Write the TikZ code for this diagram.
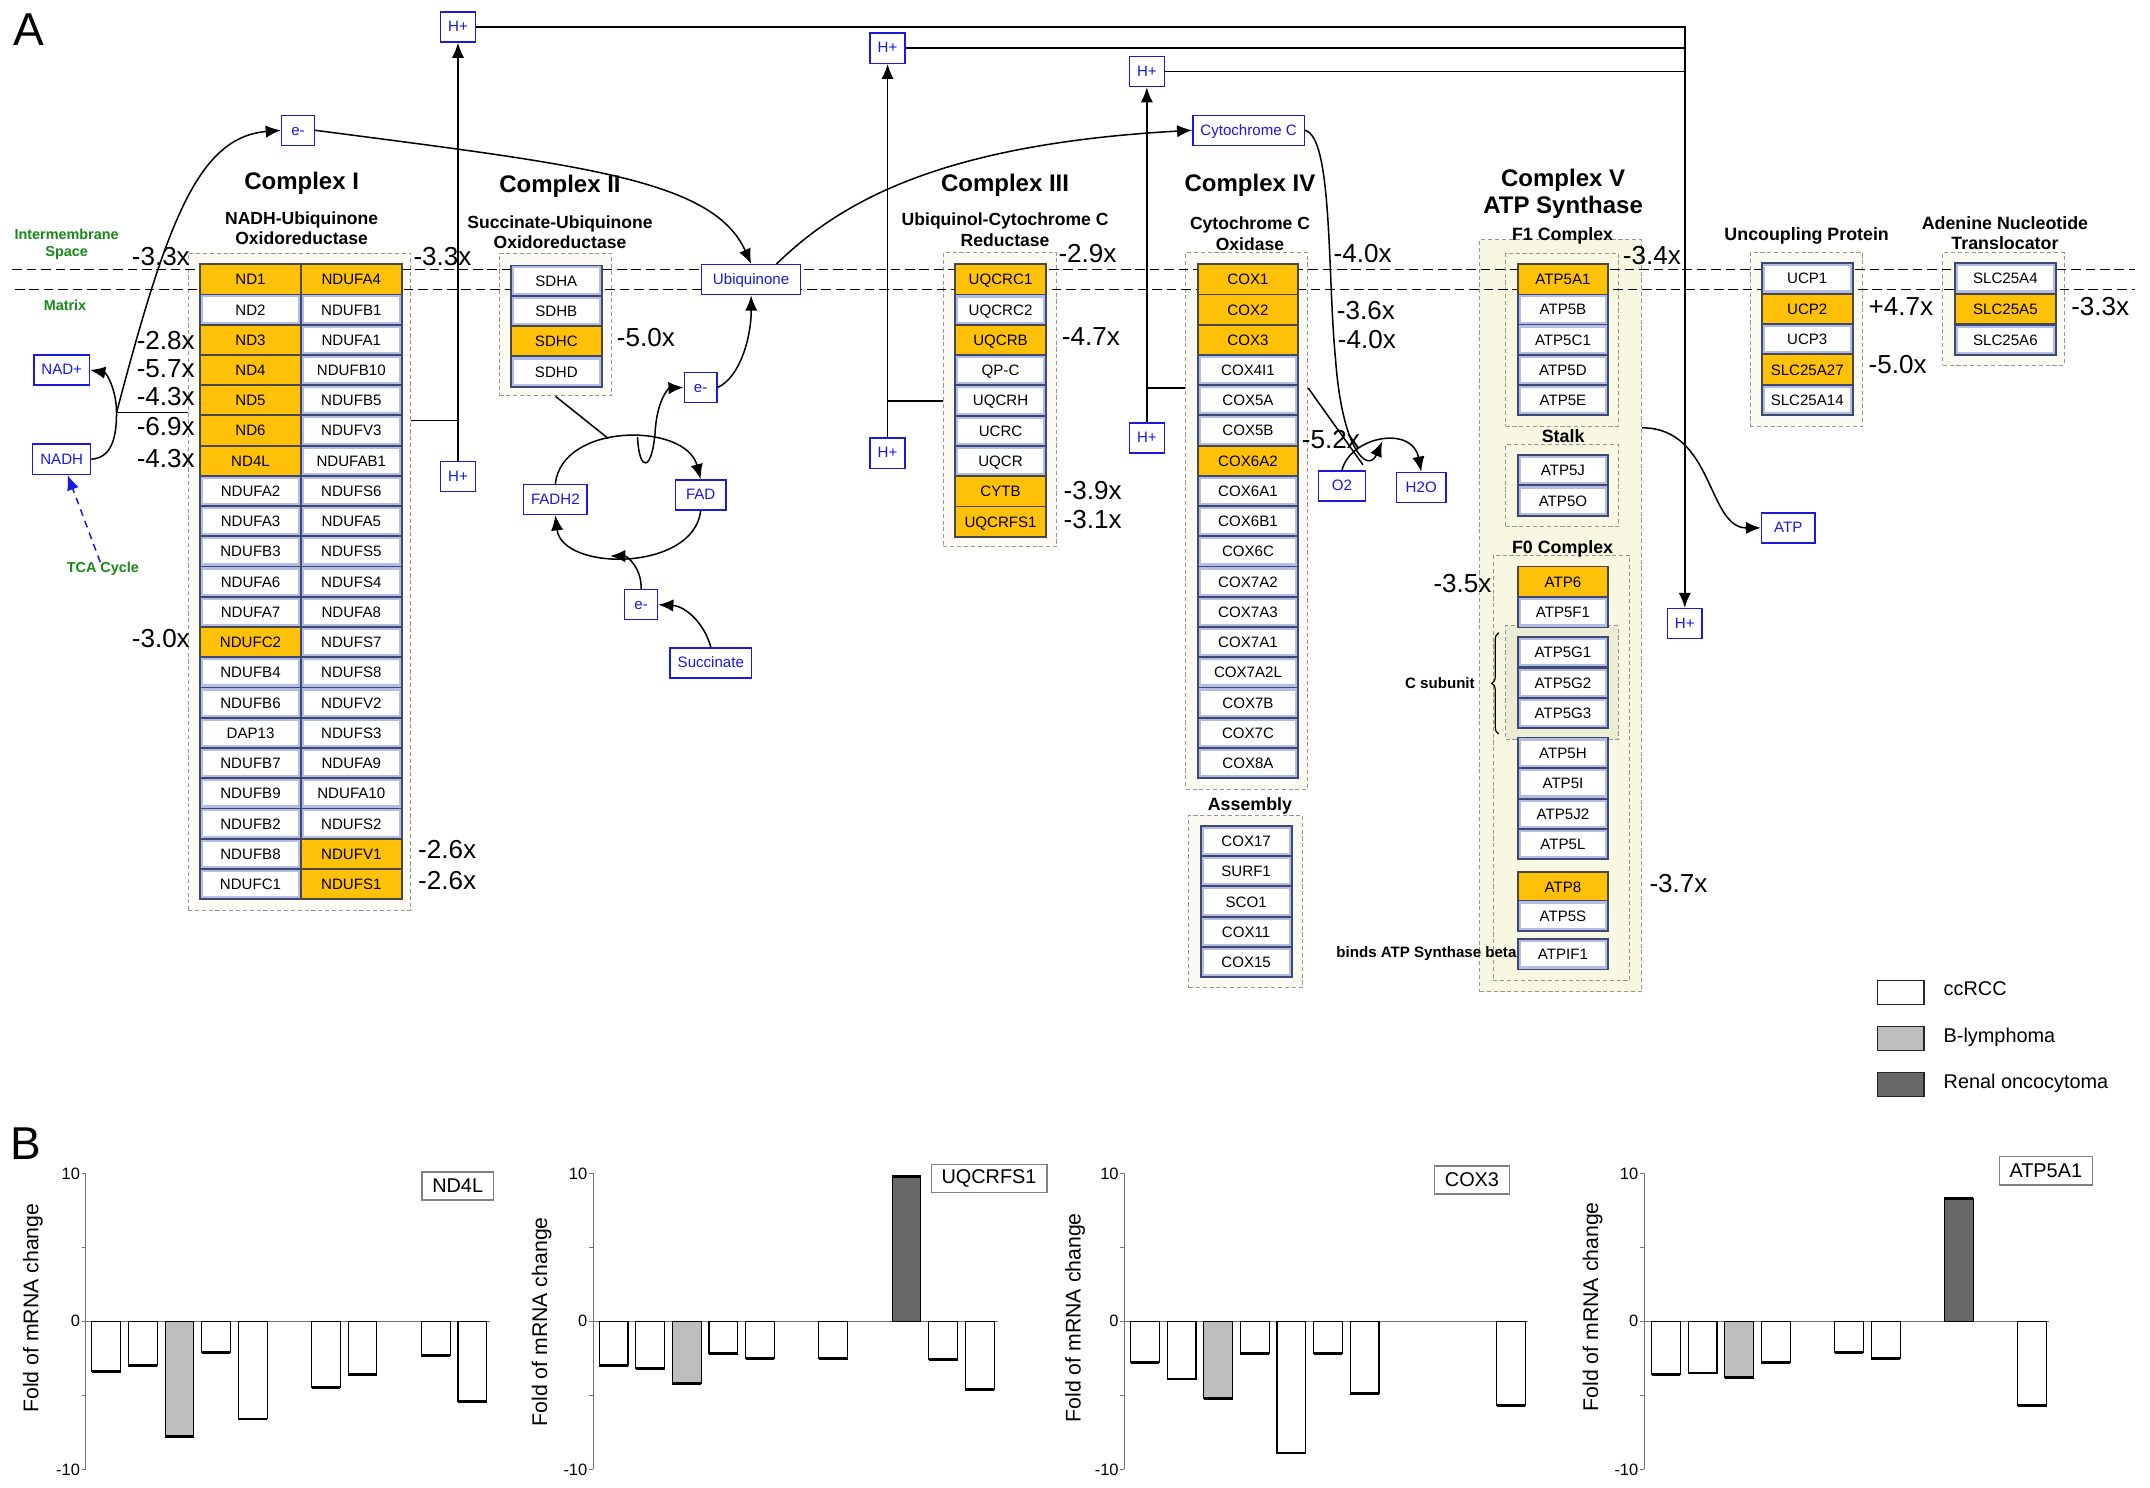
\documentclass[tikz,border=0pt]{standalone}
\usepackage{fontspec}
\setmainfont{Liberation Sans}
\usepackage{tikz}
\usetikzlibrary{arrows.meta,decorations.pathreplacing}

\definecolor{celldark}{RGB}{62,72,112}
\definecolor{cellband}{RGB}{178,188,228}
\definecolor{hitfill}{RGB}{255,193,7}
\definecolor{hitdark}{RGB}{72,72,72}
\definecolor{metblue}{RGB}{25,25,225}
\definecolor{memgreen}{RGB}{25,135,25}
\definecolor{grpfill}{RGB}{251,251,243}
\definecolor{grpline}{RGB}{150,150,140}
\definecolor{atpfill}{RGB}{248,248,226}
\definecolor{csubfill}{RGB}{236,236,212}
\definecolor{blyfill}{RGB}{189,189,189}
\definecolor{ronfill}{RGB}{104,104,104}

\newcommand{\fntgene}{\fontsize{11}{13}\selectfont}
\newcommand{\fntfold}{\fontsize{19}{22}\selectfont}
\newcommand{\fnttitle}{\bfseries\fontsize{17.5}{19.4}\selectfont}
\newcommand{\fntsub}{\bfseries\fontsize{12.8}{15}\selectfont}
\newcommand{\fntgroup}{\bfseries\fontsize{13}{15}\selectfont}
\newcommand{\fntnote}{\bfseries\fontsize{11}{13}\selectfont}
\newcommand{\fntmem}{\bfseries\fontsize{10.5}{12.1}\selectfont}
\newcommand{\fntmet}{\fontsize{11}{13}\selectfont}
\newcommand{\fntleg}{\fontsize{14.5}{17}\selectfont}
\newcommand{\fntax}{\fontsize{15.5}{18}\selectfont}
\newcommand{\fnttick}{\fontsize{12}{14}\selectfont}
\newcommand{\fntpanel}{\fontsize{33.6}{40}\selectfont}

\begin{document}
\begin{tikzpicture}[
    x=1pt, y=-1pt,
    cellbase/.style={line width=1.3pt, minimum width=66.4pt, minimum height=22pt, inner sep=0pt, text height=8pt, text depth=0pt, font=\fntgene},
    cell/.style={cellbase, draw=celldark, fill=cellband,
        path picture={\fill[white] ([shift={(2.2pt,-2.2pt)}]path picture bounding box.north west) rectangle ([shift={(-2.2pt,2.2pt)}]path picture bounding box.south east);}},
    hit/.style={cellbase, draw=hitdark, fill=hitfill},
    group/.style={draw=grpline, fill=grpfill, dash pattern=on 3pt off 2pt, line width=0.7pt, inner sep=0pt},
    met/.style={draw=metblue, text=metblue, fill=white, line width=1pt, font=\fntmet, minimum width=25pt, minimum height=22pt, inner xsep=5.5pt, inner ysep=0pt, text height=8pt, text depth=1pt},
    fold/.style={font=\fntfold, inner sep=0pt},
    ctitle/.style={font=\fnttitle, align=center, inner sep=0pt},
    csub/.style={font=\fntsub, align=center, inner sep=0pt},
    gtitle/.style={font=\fntgroup, align=center, inner sep=0pt},
    note/.style={font=\fntnote, anchor=east, inner sep=0pt},
    mem/.style={font=\fntmem, text=memgreen, align=center, inner sep=0pt},
    link/.style={line width=1.1pt},
    arr/.style={link, -{Latex[length=11pt, width=9pt]}},
    membrane/.style={dash pattern=on 7pt off 3.5pt, line width=0.9pt},
    legbox/.style={draw=black!85, line width=0.9pt, minimum width=33.8pt, minimum height=17.3pt, inner sep=0pt},
    legtext/.style={font=\fntleg, anchor=west, inner sep=0pt, text height=10.5pt, text depth=3pt},
    chartaxis/.style={draw=black!55, line width=0.7pt},
    bar/.style={draw=black, line width=0.8pt},
    barend/.style={draw=black, line width=2pt},
    ticklbl/.style={font=\fnttick, anchor=east, inner sep=0pt},
    ylbl/.style={font=\fntax, rotate=90, inner sep=0pt},
    gtag/.style={draw=black!50, line width=1pt, fill=white, font=\fntleg, minimum height=20.5pt, inner xsep=7.5pt, inner ysep=0pt},
]
    % background
    \fill[white] (0,0) rectangle (1568,1085);
    \useasboundingbox (0,0) rectangle (1568,1085);

    % === GROUP BOXES ===
    \node[group, minimum width=162.5pt, minimum height=478.9pt] (grp1) at (218.35,424.25) {};
    \node[group, minimum width=81.9pt, minimum height=104.2pt] (grp2) at (405.15,236.6) {};
    \node[group, minimum width=82.6pt, minimum height=214.5pt] (grp3) at (729.3,291.55) {};
    \node[group, minimum width=89pt, minimum height=391pt] (grp4) at (909.2,379.9) {};
    \node[group, minimum width=82.7pt, minimum height=125.9pt] (grpasm) at (908.45,657.35) {};
    \node[group, fill=atpfill, minimum width=117.9pt, minimum height=548.2pt] (grp5) at (1138.25,449.1) {};
    \node[group, fill=atpfill, minimum width=82.2pt, minimum height=125.9pt] (grpf1) at (1139.1,247.75) {};
    \node[group, fill=atpfill, minimum width=82.2pt, minimum height=59.6pt] (grpstalk) at (1139.1,354.3) {};
    \node[group, fill=atpfill, minimum width=99.7pt, minimum height=310.4pt] (grpf0) at (1138.85,560) {};
    \node[group, fill=csubfill, minimum width=82.2pt, minimum height=82.7pt] (grpcsub) at (1139.1,497.85) {};
    \node[group, minimum width=82.1pt, minimum height=126.4pt] (grpucp) at (1317.35,247.5) {};
    \node[group, minimum width=88.6pt, minimum height=81.9pt] (grpant) at (1461.1,225.25) {};

    % === MEMBRANE ===
    \draw[membrane] (9,196.4) -- (1557,196.4);
    \draw[membrane] (11,211) -- (1557,211);
    \node[mem] (imsp) at (48.6,178) {Intermembrane\\Space};
    \node[mem] (mtx) at (47.4,223) {Matrix};

    % === COMPLEX I ===
    \foreach \st/\gn [count=\r from 0] in {hit/ND1, cell/ND2, hit/ND3, hit/ND4, hit/ND5, hit/ND6, hit/ND4L, cell/NDUFA2, cell/NDUFA3, cell/NDUFB3, cell/NDUFA6, cell/NDUFA7, hit/NDUFC2, cell/NDUFB4, cell/NDUFB6, cell/DAP13, cell/NDUFB7, cell/NDUFB9, cell/NDUFB2, cell/NDUFB8, cell/NDUFC1}
        \node[\st, minimum width=73.5pt] (nda\r) at (182.7,{203.7+22.05*\r}) {\gn};
    \foreach \st/\gn [count=\r from 0] in {hit/NDUFA4, cell/NDUFB1, cell/NDUFA1, cell/NDUFB10, cell/NDUFB5, cell/NDUFV3, cell/NDUFAB1, cell/NDUFS6, cell/NDUFA5, cell/NDUFS5, cell/NDUFS4, cell/NDUFA8, cell/NDUFS7, cell/NDUFS8, cell/NDUFV2, cell/NDUFS3, cell/NDUFA9, cell/NDUFA10, cell/NDUFS2, hit/NDUFV1, hit/NDUFS1}
        \node[\st, minimum width=73.5pt] (ndb\r) at (256.2,{203.7+22.05*\r}) {\gn};

    % === COMPLEX II ===
    \foreach \st/\gn [count=\r from 0] in {cell/SDHA, cell/SDHB, hit/SDHC, cell/SDHD}
        \node[\st, minimum width=66pt] (sdh\r) at (405.75,{204.6+22.15*\r}) {\gn};

    % === COMPLEX III ===
    \foreach \st/\gn [count=\r from 0] in {hit/UQCRC1, cell/UQCRC2, hit/UQCRB, cell/QP-C, cell/UQCRH, cell/UCRC, cell/UQCR, hit/CYTB, hit/UQCRFS1}
        \node[\st] (uqc\r) at (729.7,{203.7+22.09*\r}) {\gn};

    % === COMPLEX IV ===
    \foreach \st/\gn [count=\r from 0] in {hit/COX1, hit/COX2, hit/COX3, cell/COX4I1, cell/COX5A, cell/COX5B, hit/COX6A2, cell/COX6A1, cell/COX6B1, cell/COX6C, cell/COX7A2, cell/COX7A3, cell/COX7A1, cell/COX7A2L, cell/COX7B, cell/COX7C, cell/COX8A}
        \node[\st, minimum width=73.3pt] (cox\r) at (910.15,{203.7+22.05*\r}) {\gn};
    \foreach \gn [count=\r from 0] in {COX17, SURF1, SCO1, COX11, COX15}
        \node[cell] (asm\r) at (908.8,{613.3+22.1*\r}) {\gn};

    % === COMPLEX V ===
    \foreach \st/\gn [count=\r from 0] in {hit/ATP5A1, cell/ATP5B, cell/ATP5C1, cell/ATP5D, cell/ATP5E}
        \node[\st, minimum width=66.1pt] (fone\r) at (1139.85,{203.7+22*\r}) {\gn};
    \node[cell, minimum width=66.1pt] (stk0) at (1139.85,342.8) {ATP5J};
    \node[cell, minimum width=66.1pt] (stk1) at (1139.85,365.1) {ATP5O};
    \foreach \st/\gn/\yy [count=\r from 0] in {hit/ATP6/424.2, cell/ATP5F1/446.6, cell/ATP5G1/475.5, cell/ATP5G2/497.9, cell/ATP5G3/520.2, cell/ATP5H/548.9, cell/ATP5I/571.3, cell/ATP5J2/593.6, cell/ATP5L/615.5, hit/ATP8/647.1, cell/ATP5S/667.8, cell/ATPIF1/696}
        \node[\st, minimum width=66.1pt] (fzero\r) at (1139.85,\yy) {\gn};

    % === TRANSPORTERS ===
    \foreach \st/\gn [count=\r from 0] in {cell/UCP1, hit/UCP2, cell/UCP3, hit/SLC25A27, cell/SLC25A14}
        \node[\st] (ucp\r) at (1318,{203+22.2*\r}) {\gn};
    \foreach \st/\gn [count=\r from 0] in {cell/SLC25A4, hit/SLC25A5, cell/SLC25A6}
        \node[\st, minimum width=73.4pt] (ant\r) at (1462.5,{203+22.5*\r}) {\gn};

    % === TITLES ===
    \node[ctitle] (tI) at (220,133.5) {Complex I};
    \node[csub] (sI) at (220,166.5) {NADH-Ubiquinone\\Oxidoreductase};
    \node[ctitle] (tII) at (408.4,135.9) {Complex II};
    \node[csub] (sII) at (408.4,169.5) {Succinate-Ubiquinone\\Oxidoreductase};
    \node[ctitle] (tIII) at (733,135.1) {Complex III};
    \node[csub] (sIII) at (733,167.6) {Ubiquinol-Cytochrome C\\Reductase};
    \node[ctitle] (tIV) at (911.6,135.1) {Complex IV};
    \node[csub] (sIV) at (911.6,170.3) {Cytochrome C\\Oxidase};
    \node[ctitle] (tV) at (1140,141.5) {Complex V\\ATP Synthase};
    \node[gtitle] (tF1) at (1139.6,171.9) {F1 Complex};
    \node[gtitle] (tStalk) at (1140,318.4) {Stalk};
    \node[gtitle] (tF0) at (1139.6,400.2) {F0 Complex};
    \node[gtitle] (tAsm) at (911.6,588) {Assembly};
    \node[gtitle] (tUcp) at (1317.6,171.7) {Uncoupling Protein};
    \node[gtitle] (tAnt) at (1462.2,170) {Adenine Nucleotide\\Translocator};
    \node[note] (csubl) at (1075.7,497.9) {C subunit};
    \node[note] (bindl) at (1106.1,695.5) {binds ATP Synthase beta};
    \draw[line width=0.9pt, decorate, decoration={brace, amplitude=5pt}] (1093,535.3) -- (1093,461.4);

    % === METABOLITES ===
    \node[met] (hpa) at (334,19.7) {H+};
    \node[met] (hpb) at (647.3,35.1) {H+};
    \node[met] (hpc) at (836.4,52.2) {H+};
    \node[met] (hpd) at (334,347.6) {H+};
    \node[met] (hpe) at (647.3,330.5) {H+};
    \node[met] (hpf) at (836.4,319.5) {H+};
    \node[met] (hpg) at (1228.7,454.8) {H+};
    \node[met, minimum width=24pt] (ea) at (217.3,95) {e-};
    \node[met, minimum width=24pt] (eb) at (511,282.5) {e-};
    \node[met, minimum width=24pt] (ec) at (467.6,441) {e-};
    \node[met] (nadp) at (45,269.8) {NAD+};
    \node[met] (nadh) at (45,334.9) {NADH};
    \node[mem] (tca) at (75,415) {TCA Cycle};
    \node[met, minimum width=72pt] (ubq) at (547.8,204) {Ubiquinone};
    \node[met] (cytc) at (910.6,95) {Cytochrome C};
    \node[met] (fadh) at (405,364.3) {FADH2};
    \node[met, minimum width=37pt] (fad) at (511,361) {FAD};
    \node[met] (succ) at (518.4,483.5) {Succinate};
    \node[met, minimum width=34pt] (oxy) at (978.7,354.4) {O2};
    \node[met, minimum width=36pt] (wat) at (1036.5,355.5) {H2O};
    \node[met, minimum width=39pt] (atp) at (1304.2,385) {ATP};

    % === CONNECTORS ===
    \coordinate (jn) at (85,301);
    \coordinate (ja) at (334,306.8);
    \coordinate (jb) at (647.3,292.5);
    \coordinate (jc) at (836.4,283);
    \coordinate (jd) at (994,339);
    \coordinate (je) at (443.6,319.8);
    \coordinate (jf) at (465,318.7);
    \coordinate (jg) at (445,405.5);
    \coordinate (jr) at (1008,322);

    % protons
    \draw[arr] (hpd) -- (hpa);
    \draw[arr] (hpe) -- (hpb);
    \draw[arr] (hpf) -- (hpc);
    \draw[arr] (hpa.east) -- (hpa.east -| hpg) -- (hpg.north);
    \draw[link] (hpb.east) -- (hpb.east -| hpg);
    \draw[link] (hpc.east) -- (hpc.east -| hpg);
    \draw[link] (grp1.east |- ja) -- (ja);
    \draw[link] (grp3.west |- jb) -- (jb);
    \draw[link] (grp4.west |- jc) -- (jc);

    % NADH side
    \draw[link, metblue, dash pattern=on 5pt off 4pt, -{Latex[length=11pt, width=9pt]}] (tca) -- (nadh);
    \draw[arr] (nadh.east) .. controls (80,334) and (85,322) .. (jn) .. controls (85,285) and (78,272) .. (nadp.east);
    \draw[link] (grp1.west |- jn) -- (jn);
    \draw[arr] (jn) .. controls (122,160) and (145,100) .. (ea.west);
    \draw[arr] (ea.east) .. controls (420,120) and (520,130) .. (ubq.north);

    % succinate cycle
    \draw[link] (grp2.south) -- (je);
    \draw[arr] (fadh.north) .. controls (410,308) and (500,308) .. (fad.north);
    \draw[arr] (fad.south) .. controls (506,417) and (410,417) .. (fadh.south);
    \draw[arr] (jf) .. controls (466,345) and (476,345) .. (478,312) .. controls (480,290) and (488,283) .. (eb.west);
    \draw[arr] (eb.east) .. controls (540,275) and (548,245) .. (ubq.south);
    \draw[arr] (ec.north) .. controls (468,415) and (458,405.5) .. (jg);
    \draw[arr] (succ.north) .. controls (514,455) and (500,442) .. (ec.east);

    % cytochrome c and oxygen
    \draw[arr] ([xshift=-18pt]ubq.north east) .. controls (615,145) and (690,105) .. (cytc.west);
    \draw[arr] (cytc.east) .. controls (972,100) and (968,200) .. (974,262) .. controls (979,330) and (998,345) .. (jr);
    \draw[link] (grp4.east |- jc) -- (jd);
    \draw[arr] (oxy.north) .. controls (985,318) and (1030,310) .. (wat.north);

    % ATP
    \draw[arr] (grp5.east |- 0,312) .. controls (1250,312) and (1245,385) .. (atp.west);

    % === FOLD CHANGES ===
    \node[fold, anchor=east] (fd1) at (138.6,187.2) {-3.3x};
    \node[fold, anchor=west] (fd2) at (301.4,187.2) {-3.3x};
    \node[fold, anchor=east] (fd3) at (142.2,248) {-2.8x};
    \node[fold, anchor=east] (fd4) at (142.2,268.6) {-5.7x};
    \node[fold, anchor=east] (fd5) at (142.2,289.3) {-4.3x};
    \node[fold, anchor=east] (fd6) at (142.2,311) {-6.9x};
    \node[fold, anchor=east] (fd7) at (142.2,334.2) {-4.3x};
    \node[fold, anchor=east] (fd8) at (138.6,466) {-3.0x};
    \node[fold, anchor=west] (fd9) at (304.8,619.9) {-2.6x};
    \node[fold, anchor=west] (fd10) at (304.8,641.8) {-2.6x};
    \node[fold, anchor=west] (fd11) at (449.7,246) {-5.0x};
    \node[fold, anchor=west] (fd12) at (771.8,184.8) {-2.9x};
    \node[fold, anchor=west] (fd13) at (774.3,245.5) {-4.7x};
    \node[fold, anchor=west] (fd14) at (775.5,357.5) {-3.9x};
    \node[fold, anchor=west] (fd15) at (775.5,379) {-3.1x};
    \node[fold, anchor=west] (fd16) at (972.4,184.9) {-4.0x};
    \node[fold, anchor=west] (fd17) at (974.8,226.6) {-3.6x};
    \node[fold, anchor=west] (fd18) at (975.5,247.4) {-4.0x};
    \node[fold, anchor=west] (fd19) at (949.3,320.4) {-5.2x};
    \node[fold, anchor=west] (fd20) at (1183.4,186) {-3.4x};
    \node[fold, anchor=east] (fd21) at (1087.9,425.4) {-3.5x};
    \node[fold, anchor=west] (fd22) at (1202.8,644.2) {-3.7x};
    \node[fold, anchor=west] (fd23) at (1362.6,223.7) {+4.7x};
    \node[fold, anchor=west] (fd24) at (1362.6,265.5) {-5.0x};
    \node[fold, anchor=west] (fd25) at (1510.4,223.7) {-3.3x};

    % === LEGEND ===
    \node[legbox, fill=white] (lgw) at (1386.3,723.8) {};
    \node[legbox, fill=blyfill] (lgg) at (1386.3,757.5) {};
    \node[legbox, fill=ronfill] (lgd) at (1386.3,791) {};
    \node[legtext] (ltw) at (1417.3,722.5) {ccRCC};
    \node[legtext] (ltg) at (1417.3,756.2) {B-lymphoma};
    \node[legtext] (ltd) at (1417.3,790) {Renal oncocytoma};

    % === PANEL LETTERS ===
    \node[font=\fntpanel, inner sep=0pt] (lblA) at (20.7,21.9) {A};
    \node[font=\fntpanel, inner sep=0pt] (lblB) at (19,833.8) {B};

    % === B: FOLD OF mRNA CHANGE ===
    \foreach \ax/\zend/\lx/\ly/\tg/\tx/\tyy [count=\pn] in {62.5/357.6/24/954/ND4L/333.8/864.9, 432.5/727.5/395/964/UQCRFS1/721.3/859.5, 820/1114/784/961/COX3/1073.5/860.6, 1199/1494/1161.5/953/ATP5A1/1492/853.9} {
        \draw[chartaxis] (\ax,855.7) -- (\ax,1071.6);
        \foreach \yy in {855.7,909.65,963.6,1017.6,1071.6}
            \draw[chartaxis] (\ax-3,\yy) -- (\ax,\yy);
        \draw[chartaxis] (\ax,963.6) -- (\zend,963.6);
        \node[ticklbl] (tkt\pn) at (\ax-4,855.7) {10};
        \node[ticklbl] (tkz\pn) at (\ax-4,963.6) {0};
        \node[ticklbl] (tkb\pn) at (\ax-4,1071.6) {-10};
        \node[ylbl] (ylb\pn) at (\lx,\ly) {Fold of mRNA change};
        \node[gtag] (tag\pn) at (\tx,\tyy) {\tg};
    }
    % ND4L
    \foreach \slot/\val/\clr in {1/-3.4/white, 2/-3.0/white, 3/-7.8/blyfill, 4/-2.1/white, 5/-6.6/white, 7/-4.5/white, 8/-3.6/white, 10/-2.3/white, 11/-5.4/white} {
        \draw[bar, fill=\clr] ({67+26.7*(\slot-1)},963.6) rectangle ++(21,{-10.79*(\val)});
        \draw[barend] ({67+26.7*(\slot-1)},{963.6-10.79*(\val)}) -- ++(21,0);
    }
    % UQCRFS1
    \foreach \slot/\val/\clr in {1/-3.0/white, 2/-3.2/white, 3/-4.2/blyfill, 4/-2.2/white, 5/-2.5/white, 7/-2.5/white, 9/9.8/ronfill, 10/-2.6/white, 11/-4.6/white} {
        \draw[bar, fill=\clr] ({437+26.7*(\slot-1)},963.6) rectangle ++(21,{-10.79*(\val)});
        \draw[barend] ({437+26.7*(\slot-1)},{963.6-10.79*(\val)}) -- ++(21,0);
    }
    % COX3
    \foreach \slot/\val/\clr in {1/-2.8/white, 2/-3.9/white, 3/-5.2/blyfill, 4/-2.2/white, 5/-8.9/white, 6/-2.2/white, 7/-4.9/white, 11/-5.7/white} {
        \draw[bar, fill=\clr] ({824.5+26.7*(\slot-1)},963.6) rectangle ++(21,{-10.79*(\val)});
        \draw[barend] ({824.5+26.7*(\slot-1)},{963.6-10.79*(\val)}) -- ++(21,0);
    }
    % ATP5A1
    \foreach \slot/\val/\clr in {1/-3.6/white, 2/-3.5/white, 3/-3.8/blyfill, 4/-2.8/white, 6/-2.1/white, 7/-2.5/white, 9/8.3/ronfill, 11/-5.7/white} {
        \draw[bar, fill=\clr] ({1204.5+26.7*(\slot-1)},963.6) rectangle ++(21,{-10.79*(\val)});
        \draw[barend] ({1204.5+26.7*(\slot-1)},{963.6-10.79*(\val)}) -- ++(21,0);
    }
\end{tikzpicture}
\end{document}
